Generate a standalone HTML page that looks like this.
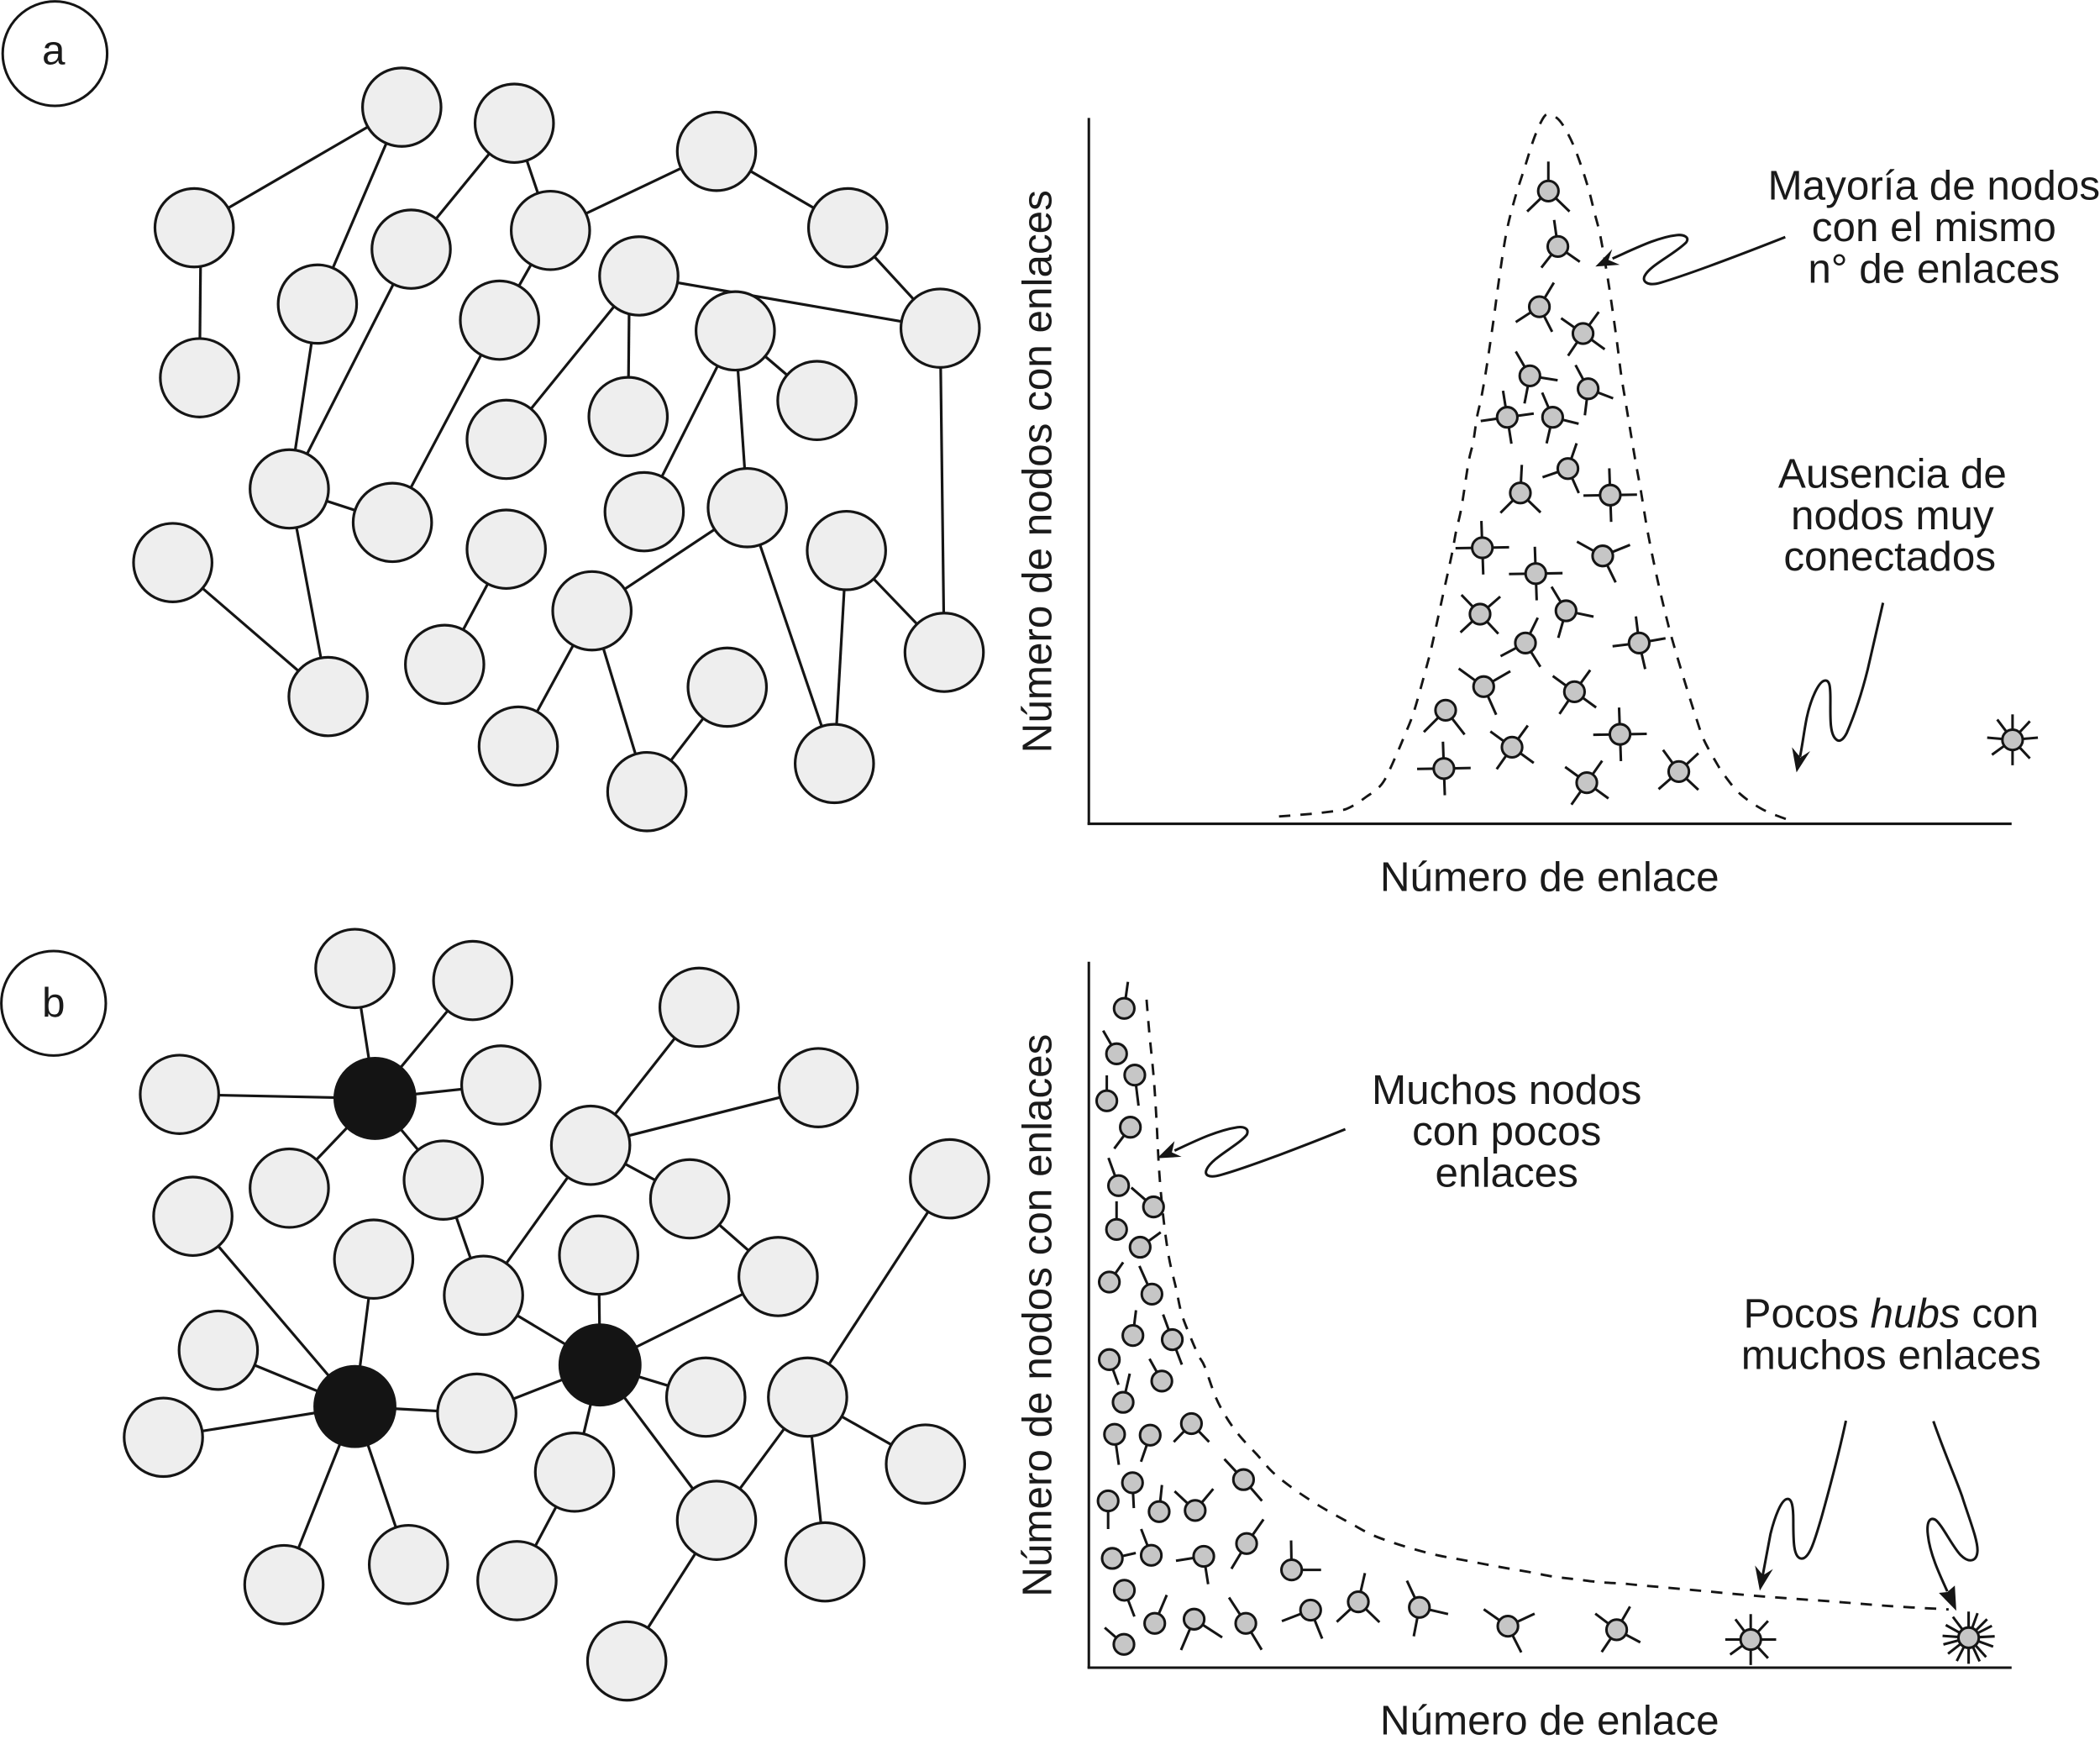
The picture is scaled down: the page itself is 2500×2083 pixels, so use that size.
<!DOCTYPE html>
<html lang="es">
<head>
<meta charset="utf-8">
<title>Redes aleatorias y redes libres de escala</title>
<style>
html,body{margin:0;padding:0;background:#fff;}
svg{display:block;width:2500px;height:2083px;}
text{font-family:"Liberation Sans",sans-serif;font-size:31px;fill:#1a1a1a;}
</style>
</head>
<body>
<svg id="figure" xmlns="http://www.w3.org/2000/svg" width="2500" height="2083" viewBox="0 0 1568 1306.44">
  <rect x="0" y="0" width="1568" height="1307" fill="#ffffff"/>
  <g id="net-a"></g>
  <g id="net-b"></g>
  <g id="plot-a"></g>
  <g id="plot-b"></g>

  <circle cx="41" cy="40" r="39" fill="#fff" stroke="#151515" stroke-width="1.9"/>
  <text x="40" y="48" text-anchor="middle">a</text>
  <circle cx="40" cy="749" r="39" fill="#fff" stroke="#151515" stroke-width="1.9"/>
  <text x="40" y="759" text-anchor="middle">b</text>

  <text x="1157" y="665" text-anchor="middle">Número de enlace</text>
  <text x="1157" y="1295" text-anchor="middle">Número de enlace</text>
  <text x="0" y="0" text-anchor="middle" transform="translate(785 352) rotate(-90)">Número de nodos con enlaces</text>
  <text x="0" y="0" text-anchor="middle" transform="translate(785 982) rotate(-90)">Número de nodos con enlaces</text>

  <g text-anchor="middle">
    <text x="1444" y="149">Mayoría de nodos</text>
    <text x="1444" y="180">con el mismo</text>
    <text x="1444" y="211">n° de enlaces</text>
  </g>
  <g text-anchor="middle">
    <text x="1413" y="364">Ausencia de</text>
    <text x="1413" y="395">nodos muy</text>
    <text x="1411" y="426">conectados</text>
  </g>
  <g text-anchor="middle">
    <text x="1125" y="824">Muchos nodos</text>
    <text x="1125" y="855">con pocos</text>
    <text x="1125" y="886">enlaces</text>
  </g>
  <g text-anchor="middle">
    <text x="1412" y="991">Pocos <tspan font-style="italic">hubs</tspan> con</text>
    <text x="1412" y="1022">muchos enlaces</text>
  </g>

  <g fill="none" stroke="#151515" stroke-width="1.9" stroke-linecap="butt">
    <path d="M1333,177 C1300,190 1260,205 1240,211 C1230,214 1226,210 1228,206 C1232,198 1250,190 1259,181 C1262,177 1257,175 1252,175.5 C1238,177 1222,185 1204,193"/>
    <path d="M1406,450 C1402,468 1398,485 1394.5,500 C1390,518 1385,533 1379,547 C1376,553 1373,554 1371,552 C1366,548 1366.7,535 1366.7,522 C1366.7,512 1366,508 1363,508 C1358,508 1352,522 1349,536 C1347,546 1346,555 1344,565"/>
    <path d="M1004.5,843 C970,857 930,872 912,877 C902,880 899,877 901,873 C905,864 925,855 931,847 C933,842 928,841 924,841.5 C908,844 892,852 877,859"/>
    <path d="M1378.3,1060.6 C1372,1090 1365,1115 1360,1133 C1355,1150 1351,1164 1345,1163.5 C1339,1163 1339,1150 1339,1135 C1339,1125 1338,1119 1334.8,1119 C1330,1119 1325,1133 1322,1145 L1316,1177"/>
    <path d="M1443.6,1061 C1452,1085 1460,1103 1465,1117 C1470,1133 1477,1150 1476.5,1158 C1476,1166 1470,1167 1464,1161 C1458,1155 1450,1138 1445,1134.5 C1440,1132 1438.5,1138 1439.5,1146 C1441,1160 1448,1175 1454,1188"/>
  </g>
  <g fill="#151515">
    <polygon points="1191.2,199 1203.8,186 1201,194 1209.4,197.6"/>
    <polygon points="1341.4,576.6 1338,557.8 1344.3,565.5 1351.6,560.7"/>
    <polygon points="864,864.7 877,851.9 875,860.3 882.2,863.6"/>
    <polygon points="1314,1187.5 1310.4,1168.7 1316.4,1176 1323.8,1171.4"/>
    <polygon points="1460.7,1202.5 1447.7,1189.2 1454,1188.5 1459.6,1183.7"/>
  </g>
</svg>

<script>
/* ---- chart data: bell curve (random network) ---- */
const bellLinks = [142,167,187,192.6,200.5,207.2,214.5,220.8,229.2,235.4,242.8,252.2,256.4,263.7,271,274.1,278.3,283.5,287,289.8,293,297,302.3,306.5,311.8,318,325.3,332.7,340,345,350.4,355.7,362,368.2,373.4,377.6,381.8,387,390.2,394.3,397.5,400.6,403.7,407.9,412.1,417.3,424.6,432,437.2,446.6,453.9,459.1,467.5,474.8,486.3,503,522];
const bellCounts = [5.5,7.5,10,11.2,15.4,20.2,25.4,32.7,50.5,65.1,84,117.4,134.1,167.6,201,217.8,236.6,270,285,303.5,318,341,377,408,441.4,466.5,489.5,512.5,528,529,526.1,518.8,506.2,489.5,472.8,456.1,439.4,410,389.2,360,335,316,297.2,272.1,249.1,217.8,182.2,151,132,100.7,77.7,63,47.4,35.9,22.3,10.8,3];

/* ---- chart data: nodes under the bell curve ---- */
const bellNodeLinks = [343.1,350.2,336.4,369,329.3,372.8,312.4,346.3,357.7,322.2,389.3,293.8,383.7,333.7,356.3,292.1,326,410.9,294.8,362.6,266.4,316,396.6,265.1,371.8,440.5,689.7];
const bellNodeCounts = [472.4,431,386,366,334.4,324.8,303.5,303.5,265.2,247,245.4,206.1,200,186.8,159,156.5,135,135,102.4,98.6,84.8,57.2,66.8,41.3,30.7,39,62.7];
const bellNodeSpokes = [
  [90,224,316],[98,232,325],[59,213,297],[54,145,236,324],[120,351,259],[118,339,263],[99,8,188,279],[113,346,257],
  [71,199,294],[87,225,316],[92,1,181,272],[92,1,181,272],[151,22,296],[92,1,181,272],[121,348,254],[41,134,223,313],
  [64,208,302],[97,10,187,283],[30,144,294],[54,144,236,324],[225,308],[54,144,235,324],[92,1,181,272],[92,1,181,272],
  [55,144,235,324],[43,126,221,317],[90,47,5,313,270,216,175,127]
];
const bellSpokeLengths = [22,20,21,20,21,20,20,20,20,21,20,20,22,20,21,20,21,20,23,20,23,20,20,20,20,20,19];

/* ---- chart data: power law (scale-free network) ---- */
const powerLinks = [43.1,45.2,48.3,50.4,52.5,55.7,59.8,65.1,69.2,75.5,81.8,86.4,94.8,103.2,113,125.6,136.8,150.8,166.2,180.2,195.6,211,227.8,244.6,261.4,278.2,295,311.8,330,346.8,363.6,381.8,398.6,410,450.8,502,554,598.2,642];
const powerCounts = [498.7,473.6,442.2,411,371.1,335.6,306.3,283.3,264.5,247.8,233.2,225,201.8,186.1,172.6,159,146.4,135,124.5,116.1,107.7,99.4,93.1,88,83.7,80.6,77.4,74.3,71.2,68,66,63.8,62.8,61.7,58,53.3,49.5,46,43.5];

/* ---- chart data: nodes under the power-law curve ---- */
const powerNodeLinks = [26.4,20.7,34.3,13.4,31,22.2,48.3,20.7,38.3,15.3,47.1,32.9,62.3,15.3,54.5,25.6,19.2,45.8,76.6,32.6,14.4,115.5,52.5,79.4,117.8,17.5,46.6,85.8,151.4,26.5,49.2,78.6,117.2,26.2,165.6,201.2,246.8,312.9,394.1,494.2,656.9];
const powerNodeCounts = [492.2,458.3,442.4,423.2,403.5,359.9,344,327.2,313.9,287.9,278.9,248,244.9,230,214,198.1,174.2,173.6,182.2,138.1,124.5,140.4,116.5,117.4,92.7,81.6,83.9,83.1,73,57.8,33.1,36.2,33.1,17.4,43,49.2,45,31,28.3,21,22.4];
const powerNodeSpokes = [
  [82],[120],[277],[90],[233],[110],[139],[90],[36],[55],[114],[83],[110,291],[290],[119],[77],[278],[251],[226,314],[273],[270],
  [133,311],[84],[137,50],[55,239],[13],[111],[189,279],[91,0],[291],[67],[247,327],[123,301],[139],[201,292],[77,223,316],[115,347,259],[145,25,297],[60,143,236,332],
  [90,47,0,313,270,216,180,127],
  [90,70,45,27,3,340,312,295,270,243,218,195,176,151,127]
];
const powerSpokeLengths = [20,20,23,19,20,22,22,21,19,18,23,19,20,20,19,22,23,21,19,19,21,21,20,21,22,18,21,21,22,21,23,25,23,19,23,22,22,22,20,19,19.5];

/* ---- network diagrams ---- */
const randomNodes = [[300,80],[145,170],[149,282],[237,227],[307,186],[384,92],[411,172],[535,113],[633,170],[702,245],[477,206],[373,239],[549,247],[610,299],[378,328],[469,311],[481,382],[558,379],[216,365],[293,390],[378,410],[129,420],[245,520],[332,496],[442,456],[632,411],[705,487],[387,557],[483,591],[543,513],[623,570]];
const randomEdges = [[0,1],[0,3],[1,2],[3,18],[4,18],[5,4],[5,6],[6,7],[7,8],[8,9],[6,11],[11,19],[18,19],[18,22],[21,22],[10,9],[10,14],[10,15],[12,13],[12,16],[12,17],[9,26],[17,24],[17,30],[24,27],[24,28],[28,29],[20,23],[25,26],[25,30]];
const scaleFreeNodes = [[280,820],[265,1050],[448,1019],[265,723],[353,732],[134,817],[374,810],[216,887],[331,881],[144,908],[279,940],[522,752],[611,812],[441,855],[515,895],[581,953],[709,880],[361,967],[447,937],[163,1008],[122,1073],[356,1055],[527,1043],[603,1043],[691,1093],[429,1099],[535,1135],[212,1183],[305,1168],[386,1180],[616,1166],[468,1240]];
const scaleFreeEdges = [[0,3],[0,4],[0,5],[0,6],[0,7],[0,8],[8,17],[17,13],[13,11],[13,12],[13,14],[14,15],[15,2],[17,2],[18,2],[21,2],[22,2],[25,2],[2,26],[26,23],[23,16],[23,24],[23,30],[26,31],[25,29],[1,9],[1,10],[1,19],[1,20],[1,21],[1,27],[1,28]];
const scaleFreeHubCount = 3;

const SVGNS = 'http://www.w3.org/2000/svg';
const INK = '#151515';

/* axis functions */
function axisAX(v){ return 813 + v; }
function axisAY(v){ return 615 - v; }
function axisBX(v){ return 813 + v; }
function axisBY(v){ return 1245 - v; }

function make(tag, attrs, parent){
  const el = document.createElementNS(SVGNS, tag);
  for (const k in attrs) el.setAttribute(k, attrs[k]);
  parent.appendChild(el);
  return el;
}

function smoothPath(xs, ys){
  let d = 'M' + xs[0].toFixed(2) + ',' + ys[0].toFixed(2);
  for (let i = 0; i < xs.length - 1; i++){
    const i0 = Math.max(i - 1, 0), i3 = Math.min(i + 2, xs.length - 1);
    const c1x = xs[i] + (xs[i + 1] - xs[i0]) / 6, c1y = ys[i] + (ys[i + 1] - ys[i0]) / 6;
    const c2x = xs[i + 1] - (xs[i3] - xs[i]) / 6, c2y = ys[i + 1] - (ys[i3] - ys[i]) / 6;
    d += ' C' + c1x.toFixed(2) + ',' + c1y.toFixed(2) + ' ' + c2x.toFixed(2) + ',' + c2y.toFixed(2) + ' ' + xs[i + 1].toFixed(2) + ',' + ys[i + 1].toFixed(2);
  }
  return d;
}

function drawAxes(parent, sx, sy, prefix){
  const yAxis = make('line', {x1: sx(0), y1: sy(0), x2: sx(0), y2: sy(527), stroke: INK, 'stroke-width': 1.9}, parent);
  
  
  const xAxis = make('line', {x1: sx(0) - 1, y1: sy(0), x2: sx(689), y2: sy(0), stroke: INK, 'stroke-width': 1.9}, parent);
  
  
}

function drawCurve(parent, links, counts, sx, sy, name){
  const curve = make('path', {d: smoothPath(links.map(sx), counts.map(sy)), fill: 'none', stroke: INK, 'stroke-width': 1.8, 'stroke-dasharray': '8.5 7.5'}, parent);
  
  
}

function drawSmallNodes(parent, links, counts, spokes, lengths, sx, sy, name){
  links.forEach(function(v, i){
    const g = make('g', {}, parent);
    
    
    const cx = sx(v), cy = sy(counts[i]);
    spokes[i].forEach(function(a){
      const r = a * Math.PI / 180;
      make('line', {x1: cx, y1: cy, x2: cx + lengths[i] * Math.cos(r), y2: cy - lengths[i] * Math.sin(r), stroke: INK, 'stroke-width': 1.9}, g);
    });
    make('circle', {cx: cx, cy: cy, r: 7.6, fill: '#c6c6c6', stroke: INK, 'stroke-width': 1.9}, g);
  });
}

function drawNetwork(parent, nodes, edges, hubCount, prefix){
  edges.forEach(function(e){
    const straightDown = prefix === 'random' && ((e[0] === 10 && e[1] === 15) || (e[0] === 1 && e[1] === 2));
    const startX = straightDown ? nodes[e[1]][0] + 1 : nodes[e[0]][0];
    const l = make('line', {x1: startX, y1: nodes[e[0]][1], x2: nodes[e[1]][0], y2: nodes[e[1]][1], stroke: INK, 'stroke-width': 2}, parent);
    
    
  });
  nodes.forEach(function(n, i){
    const hub = i < hubCount;
    const c = make('circle', {cx: n[0], cy: n[1], r: hub ? 30 : 29.3, fill: hub ? '#141414' : '#eeeeee', stroke: INK, 'stroke-width': 2}, parent);
    
    
  });
}

drawNetwork(document.getElementById('net-a'), randomNodes, randomEdges, 0, 'random');
drawNetwork(document.getElementById('net-b'), scaleFreeNodes, scaleFreeEdges, scaleFreeHubCount, 'scale-free');

const plotA = document.getElementById('plot-a');
drawCurve(plotA, bellLinks, bellCounts, axisAX, axisAY, 'bell-curve');
drawAxes(plotA, axisAX, axisAY, 'bell');
drawSmallNodes(plotA, bellNodeLinks, bellNodeCounts, bellNodeSpokes, bellSpokeLengths, axisAX, axisAY, 'bell-small-node');

const plotB = document.getElementById('plot-b');
drawCurve(plotB, powerLinks, powerCounts, axisBX, axisBY, 'power-law-curve');
drawAxes(plotB, axisBX, axisBY, 'power');
drawSmallNodes(plotB, powerNodeLinks, powerNodeCounts, powerNodeSpokes, powerSpokeLengths, axisBX, axisBY, 'power-small-node');
</script>
</body>
</html>
